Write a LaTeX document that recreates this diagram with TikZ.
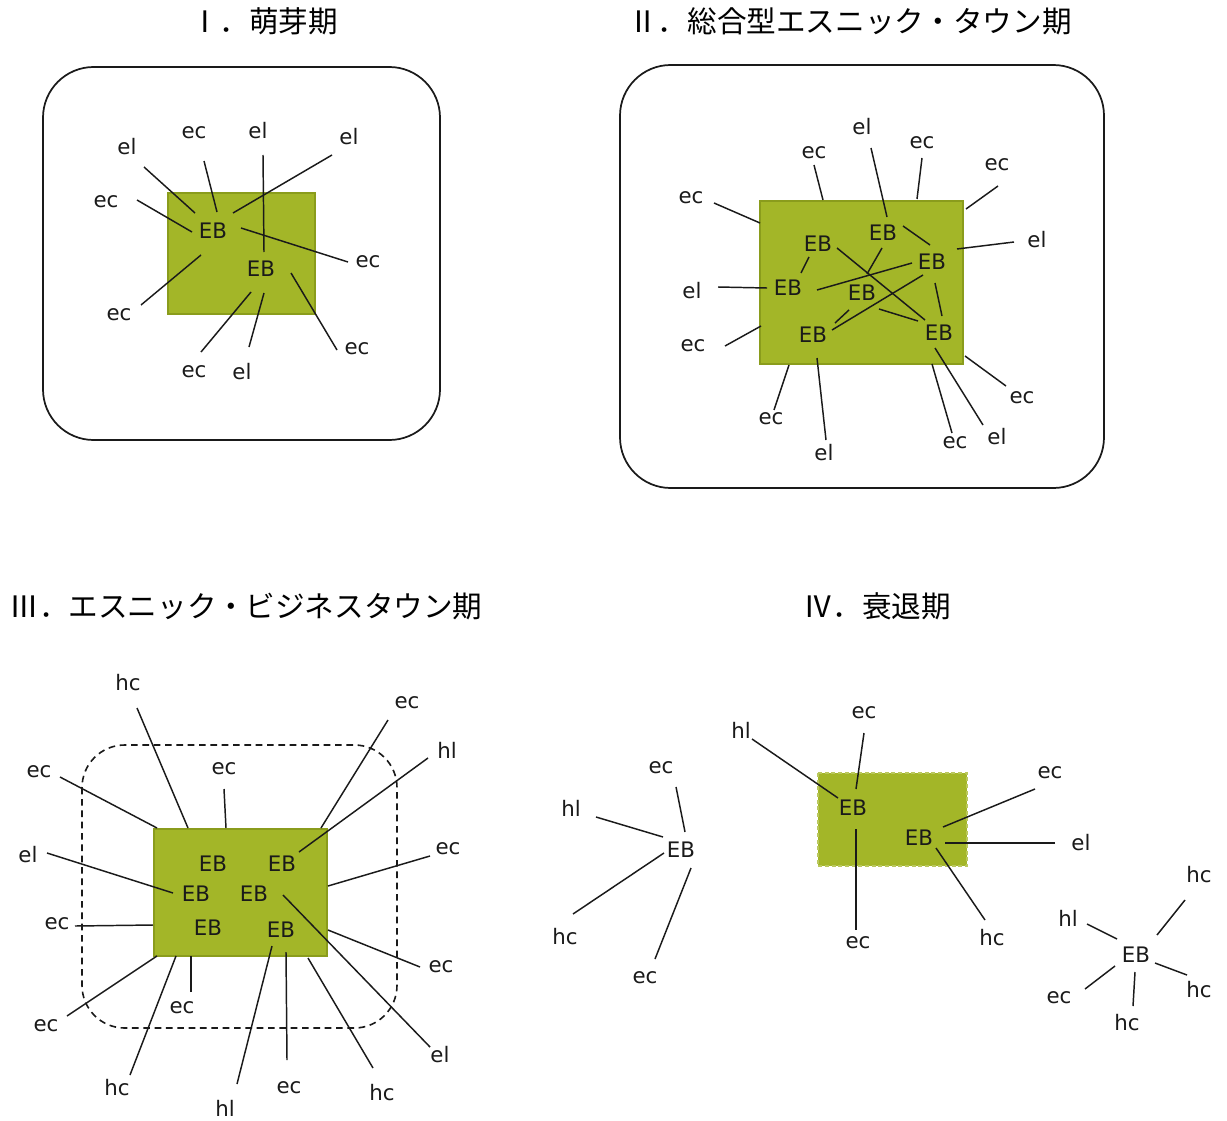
\documentclass[tikz,border=0pt]{standalone}
\usepackage{fontspec}
\newfontfamily\labfont{DejaVu Sans}
\newfontfamily\cjk{Noto Sans CJK JP}
\definecolor{ebgreen}{HTML}{A3B628}
\definecolor{ebedge}{HTML}{8A9C1C}
\definecolor{ink}{HTML}{1A1A1A}
\newcommand\spk[3]{\draw[spoke] (#2) coordinate (#1a) -- (#3) coordinate (#1b);}
\begin{document}
\begin{tikzpicture}[x=0.75pt,y=-0.75pt,
  spoke/.style={draw=ink,line width=1.1pt},
  lab/.style={inner sep=0pt,font=\labfont\fontsize{16pt}{18pt}\selectfont,text=ink},
  ttl/.style={inner sep=0pt,font=\cjk\fontsize{22.2pt}{26pt}\selectfont,text=black},
  frame/.style={draw=ink,line width=1.3pt,rounded corners=38pt},
  dframe/.style={draw=ink,line width=1.2pt,rounded corners=32pt,dash pattern=on 5pt off 3.5pt},
  core/.style={fill=ebgreen,draw=ebedge,line width=0.8pt}]
\useasboundingbox[fill=white] (0,0) rectangle (1227,1120);

% ---------- titles ----------
\node[ttl] (t1) at (264,21) {Ⅰ．萌芽期};
\node[ttl] (t2) at (850,21) {Ⅱ．総合型エスニック・タウン期};
\node[ttl] (t3) at (246,606) {Ⅲ．エスニック・ビジネスタウン期};
\node[ttl] (t4) at (877,606) {Ⅳ．衰退期};

% ---------- I ----------
\draw[frame] (43,67) rectangle (440,440);
\draw[core] (168,193) rectangle (315,314);
\node[lab] (a1) at (213,231) {EB};
\node[lab] (a2) at (261,269) {EB};
\node[lab] (a1l1) at (127,147) {el};
\node[lab] (a1l2) at (194,133) {ec};
\node[lab] (a1l3) at (258,131) {el};
\node[lab] (a1l4) at (349,137) {el};
\node[lab] (a1l5) at (106,202) {ec};
\node[lab] (a1l6) at (368,262) {ec};
\node[lab] (a1l7) at (119,315) {ec};
\node[lab] (a1l8) at (194,372) {ec};
\node[lab] (a1l9) at (242,372) {el};
\node[lab] (a1l10) at (357,349) {ec};
\spk{a1s1}{144,167}{195,213}
\spk{a1s2}{204,161}{217,212}
\spk{a1s3}{263,155}{264,252}
\spk{a1s4}{332,155}{233,213}
\spk{a1s5}{137,200}{192,232}
\spk{a1s6}{241,228}{348,262}
\spk{a1s7}{141,305}{201,255}
\spk{a1s8}{201,352}{251,292}
\spk{a1s9}{249,347}{264,293}
\spk{a1s10}{337,350}{291,273}

% ---------- II ----------
\draw[frame] (620,65) rectangle (1104,488);
\draw[core] (760,201) rectangle (963,364);
\node[lab] (bA) at (818,244) {EB};
\node[lab] (bB) at (883,233) {EB};
\node[lab] (bC) at (932,262) {EB};
\node[lab] (bD) at (788,288) {EB};
\node[lab] (bE) at (862,293) {EB};
\node[lab] (bF) at (813,335) {EB};
\node[lab] (bG) at (939,333) {EB};
% links between businesses
\spk{bi1}{809,257}{801,273}
\spk{bi2}{837,248}{925,320}
\spk{bi3}{903,226}{930,245}
\spk{bi4}{882,248}{867,274}
\spk{bi5}{817,290}{912,263}
\spk{bi6}{923,275}{832,330}
\spk{bi7}{849,310}{835,323}
\spk{bi8}{879,309}{918,321}
\spk{bi9}{935,283}{942,316}
% outer links
\node[lab] (b1) at (691,198) {ec};
\node[lab] (b2) at (814,153) {ec};
\node[lab] (b3) at (862,127) {el};
\node[lab] (b4) at (922,143) {ec};
\node[lab] (b5) at (997,165) {ec};
\node[lab] (b6) at (1037,240) {el};
\node[lab] (b7) at (692,291) {el};
\node[lab] (b8) at (693,346) {ec};
\node[lab] (b9) at (771,419) {ec};
\node[lab] (b10) at (824,453) {el};
\node[lab] (b11) at (955,443) {ec};
\node[lab] (b12) at (997,437) {el};
\node[lab] (b13) at (1022,398) {ec};
\spk{bs1}{714,203}{760,223}
\spk{bs2}{814,165}{823,200}
\spk{bs3}{871,148}{887,217}
\spk{bs4}{922,158}{917,199}
\spk{bs5}{998,186}{966,209}
\spk{bs6}{1014,242}{957,249}
\spk{bs7}{718,287}{767,288}
\spk{bs8}{725,346}{761,326}
\spk{bs9}{774,410}{789,365}
\spk{bs10}{826,440}{817,358}
\spk{bs11}{952,433}{932,364}
\spk{bs12}{983,425}{935,348}
\spk{bs13}{1006,386}{965,356}

% ---------- III ----------
\draw[dframe] (82,745) rectangle (397,1028);
\draw[core] (154,829) rectangle (327,956);
\node[lab] (c1) at (213,864) {EB};
\node[lab] (c2) at (282,864) {EB};
\node[lab] (c3) at (196,894) {EB};
\node[lab] (c4) at (254,894) {EB};
\node[lab] (c5) at (208,928) {EB};
\node[lab] (c6) at (281,930) {EB};
\node[lab] (cl1) at (128,683) {hc};
\node[lab] (cl2) at (407,703) {ec};
\node[lab] (cl3) at (447,750) {hl};
\node[lab] (cl4) at (39,772) {ec};
\node[lab] (cl5) at (224,769) {ec};
\node[lab] (cl6) at (28,855) {el};
\node[lab] (cl7) at (448,849) {ec};
\node[lab] (cl8) at (57,924) {ec};
\node[lab] (cl9) at (440,1055) {el};
\node[lab] (cl10) at (441,967) {ec};
\node[lab] (cl11) at (46,1026) {ec};
\node[lab] (cl12) at (117,1088) {hc};
\node[lab] (cl13) at (182,1008) {ec};
\node[lab] (cl14) at (225,1108) {hl};
\node[lab] (cl15) at (289,1088) {ec};
\node[lab] (cl16) at (382,1093) {hc};
\spk{cs1}{137,708}{188,828}
\spk{cs2}{388,720}{321,828}
\spk{cs3}{428,758}{299,852}
\spk{cs4}{60,777}{157,828}
\spk{cs5}{224,789}{226,828}
\spk{cs6}{47,853}{173,893}
\spk{cs7}{430,856}{328,886}
\spk{cs8}{75,926}{153,925}
\spk{cs9}{283,895}{430,1047}
\spk{cs10}{328,930}{420,967}
\spk{cs11}{67,1016}{157,956}
\spk{cs12}{130,1075}{176,956}
\spk{cs13}{191,992}{191,956}
\spk{cs14}{237,1084}{272,946}
\spk{cs15}{287,1060}{286,952}
\spk{cs16}{373,1068}{308,958}

% ---------- IV ----------
% scattered business, left
\node[lab] (dL) at (681,850) {EB};
\node[lab] (dL1) at (661,768) {ec};
\node[lab] (dL2) at (571,808) {hl};
\node[lab] (dL3) at (565,937) {hc};
\node[lab] (dL4) at (645,978) {ec};
\spk{dLs1}{676,787}{685,832}
\spk{dLs2}{596,817}{663,837}
\spk{dLs3}{573,914}{664,853}
\spk{dLs4}{655,959}{691,868}
% shrinking core
\draw[fill=ebgreen,draw=ebgreen!75!white,line width=0.9pt,dash pattern=on 3pt off 2pt] (818,773) rectangle (967,866);
\node[lab] (dM1) at (853,808) {EB};
\node[lab] (dM2) at (919,838) {EB};
\node[lab] (dm1) at (741,730) {hl};
\node[lab] (dm2) at (864,713) {ec};
\node[lab] (dm3) at (858,943) {ec};
\node[lab] (dm4) at (1050,773) {ec};
\node[lab] (dm5) at (1081,843) {el};
\node[lab] (dm6) at (992,938) {hc};
\spk{dms1}{752,739}{838,798}
\spk{dms2}{864,733}{856,789}
\spk{dms3}{856,829}{856,930}
\spk{dms4}{1035,789}{943,827}
\spk{dms5}{1055,843}{945,843}
\spk{dms6}{985,920}{936,848}
% scattered business, right
\node[lab] (dR) at (1136,955) {EB};
\node[lab] (dR1) at (1199,875) {hc};
\node[lab] (dR2) at (1068,918) {hl};
\node[lab] (dR3) at (1199,990) {hc};
\node[lab] (dR4) at (1127,1023) {hc};
\node[lab] (dR5) at (1059,998) {ec};
\spk{dRs1}{1185,900}{1157,935}
\spk{dRs2}{1087,924}{1117,939}
\spk{dRs3}{1187,975}{1155,963}
\spk{dRs4}{1133,1006}{1135,972}
\spk{dRs5}{1085,989}{1115,966}
\end{tikzpicture}
\end{document}
